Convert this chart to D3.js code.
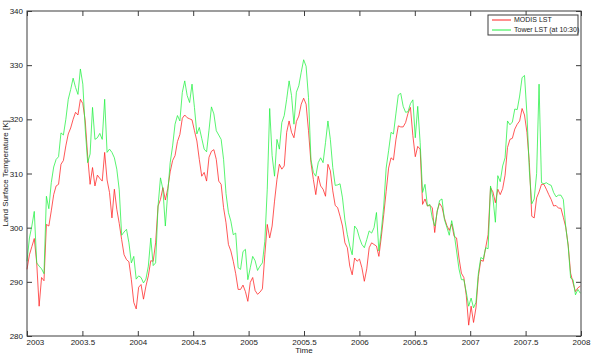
<!DOCTYPE html>
<html>
<head>
<meta charset="utf-8">
<script src="https://cdn.jsdelivr.net/npm/d3@7/dist/d3.min.js"></script>
<style>
  body { margin: 0; background: #fff; }
  text { font-family: "Liberation Sans", Arial, sans-serif; }
</style>
</head>
<body>
<div id="chart"></div>
<script>
// 8-day samples starting 2003-01-01
const startYear = 2003;
const stepDays = 8;

const modisLST = [
  292.3, 295.0, 296.5, 298.0, 293.5, 285.5, 290.8, 290.2, 300.6, 300.3,
  303.1, 306.1, 307.7, 308.0, 311.7, 312.4, 315.1, 317.3, 318.4, 320.0,
  321.3, 320.8, 323.7, 322.9, 319.7, 313.2, 308.0, 311.1, 307.7, 309.7,
  309.1, 308.6, 313.9, 308.8, 306.5, 301.8, 307.1, 303.4, 300.8, 297.8,
  295.0, 294.1, 293.7, 290.4, 286.2, 285.0, 289.0, 289.5, 286.8, 289.2,
  291.1, 293.9, 293.8, 297.2, 304.0, 305.2, 307.4, 305.1, 307.2, 310.3,
  312.4, 313.3, 315.9, 317.2, 320.2, 320.8, 320.3, 320.1, 319.9, 317.9,
  316.0, 312.6, 309.5, 310.2, 308.6, 313.0, 314.1, 314.4, 312.6, 308.6,
  308.0, 303.7, 300.9, 296.9, 295.7, 293.8, 291.5, 288.6, 288.6, 289.4,
  288.2, 286.4, 289.9, 290.8, 288.4, 287.7, 288.1, 288.7, 295.0, 300.6,
  298.1, 300.3, 304.9, 308.9, 311.7, 310.8, 311.4, 317.6, 319.7, 317.6,
  316.6, 319.6, 320.6, 322.8, 323.9, 322.8, 317.9, 312.0, 308.9, 306.1,
  309.5, 307.7, 307.1, 305.8, 311.7, 310.5, 306.8, 304.1, 303.7, 302.1,
  300.3, 297.2, 296.3, 292.9, 291.3, 294.4, 293.8, 294.2, 292.6, 290.1,
  292.4, 296.3, 297.2, 296.9, 296.6, 294.7, 298.3, 302.4, 306.7, 311.0,
  312.9, 312.5, 316.2, 318.8, 318.6, 318.6, 319.4, 321.1, 322.2, 317.0,
  313.1, 315.0, 314.5, 304.3, 305.3, 304.0, 304.1, 303.7, 299.1, 303.1,
  304.5, 303.8, 301.8, 300.4, 299.5, 300.7, 298.4, 298.1, 294.4, 291.6,
  290.8, 287.5, 282.0, 285.5, 282.5, 285.2, 291.0, 294.0, 293.8, 296.3,
  298.7, 307.4, 306.6, 304.6, 307.1, 306.1, 307.2, 309.7, 314.8, 316.3,
  316.5, 318.2, 319.1, 319.7, 322.0, 320.8, 317.6, 312.0, 302.1, 301.8,
  305.5, 306.6, 308.0, 308.0, 307.1, 306.1, 305.2, 304.0, 304.1, 303.6,
  303.6, 301.9, 300.1, 296.8, 291.6, 289.8, 288.2, 288.9, 289.2
];

const towerLST = [
  293.8, 298.1, 300.3, 303.0, 293.5, 292.9, 292.4, 291.5, 305.8, 303.5,
  308.3, 311.2, 312.6, 313.1, 317.5, 317.1, 320.0, 323.7, 325.5, 327.6,
  325.9, 324.6, 329.3, 326.5, 318.2, 312.0, 313.6, 322.2, 316.3, 316.6,
  317.4, 316.3, 323.7, 313.9, 314.5, 313.9, 312.9, 310.8, 307.0, 298.6,
  299.2, 299.7, 297.2, 293.5, 294.7, 290.5, 291.1, 290.8, 289.8, 290.5,
  292.9, 298.1, 293.0, 293.5, 304.0, 309.2, 307.1, 300.3, 306.5, 312.0,
  315.1, 319.1, 320.7, 319.7, 325.0, 327.1, 324.4, 323.1, 326.5, 322.2,
  317.3, 318.5, 316.5, 314.5, 314.0, 318.0, 322.3, 321.0, 317.9, 317.1,
  316.3, 312.6, 306.3, 302.8, 301.2, 298.7, 299.0, 292.6, 292.3, 295.6,
  296.0, 290.4, 292.6, 294.7, 293.9, 292.1, 292.9, 293.5, 297.5, 307.1,
  322.0, 313.3, 309.5, 316.3, 314.5, 319.4, 320.7, 323.7, 327.1, 324.4,
  319.1, 325.0, 326.2, 328.7, 331.0, 329.8, 324.0, 312.6, 310.2, 309.5,
  312.0, 312.9, 312.0, 315.7, 319.7, 316.3, 311.1, 307.8, 307.9, 308.1,
  305.5, 301.4, 298.7, 296.6, 295.0, 300.3, 299.7, 298.1, 296.9, 296.3,
  297.8, 299.4, 299.0, 300.0, 302.8, 295.7, 299.4, 304.0, 311.0, 314.2,
  317.6, 317.3, 321.0, 324.5, 324.8, 322.4, 321.3, 321.4, 322.9, 323.6,
  316.6, 322.4, 315.7, 306.5, 308.0, 304.0, 304.3, 301.8, 300.3, 302.8,
  305.0, 305.3, 301.5, 300.1, 298.6, 301.3, 299.0, 295.7, 292.4, 290.4,
  290.4, 288.1, 285.5, 287.0, 285.2, 286.2, 291.6, 294.5, 294.2, 296.3,
  296.1, 307.7, 305.5, 301.0, 309.6, 308.5, 311.4, 312.9, 319.7, 319.0,
  319.5, 321.9, 321.8, 324.3, 327.7, 328.1, 321.0, 310.5, 304.4, 305.3,
  310.0, 326.5, 308.3, 308.1, 308.3, 308.0, 307.8, 306.5, 305.7, 306.0,
  306.0, 305.2, 300.1, 296.6, 290.7, 290.4, 287.6, 288.6, 287.9
];

const xTicks = [2003, 2003.5, 2004, 2004.5, 2005, 2005.5, 2006, 2006.5, 2007, 2007.5, 2008];
const yTicks = [280, 290, 300, 310, 320, 330, 340];
const seriesNames = ['MODIS LST', 'Tower LST (at 10:30)'];
const seriesColors = ['#ff2020', '#20f040'];

const width = 600, height = 357;
const margin = { top: 11, right: 19, bottom: 21, left: 27 };

const svg = d3.select('#chart')
  .append('svg')
  .attr('width', width)
  .attr('height', height);

const x = d3.scaleLinear().domain([2003, 2008]).range([margin.left, width - margin.right]);
const y = d3.scaleLinear().domain([280, 340]).range([height - margin.bottom, margin.top]);

const timeOf = i => startYear + (i * stepDays) / 365.25;

// axes, ticks pointing inward like matlab
const axisColor = '#3c3c3c';
function styleAxis(g) {
  g.selectAll('.domain').remove();
  g.selectAll('line').attr('stroke', axisColor);
  g.selectAll('text').attr('fill', '#222').style('font-size', '8px');
}

const xAxisG = svg.append('g')
  .attr('transform', `translate(0,${height - margin.bottom})`)
  .call(d3.axisBottom(x).tickValues(xTicks).tickSizeInner(-5).tickSizeOuter(0).tickPadding(3).tickFormat(d => d))
  .call(styleAxis);

// first label sits right of the corner, as in the original
xAxisG.selectAll('.tick text')
  .filter(d => d === xTicks[0])
  .attr('text-anchor', 'start')
  .attr('x', -1);

svg.append('g')
  .attr('transform', `translate(0,${margin.top})`)
  .call(d3.axisTop(x).tickValues(xTicks).tickSizeInner(-5).tickSizeOuter(0).tickFormat(''))
  .call(styleAxis);

svg.append('g')
  .attr('transform', `translate(${margin.left},0)`)
  .call(d3.axisLeft(y).tickValues(yTicks).tickSizeInner(-5).tickSizeOuter(0).tickPadding(4).tickFormat(d => d))
  .call(styleAxis);

svg.append('g')
  .attr('transform', `translate(${width - margin.right},0)`)
  .call(d3.axisRight(y).tickValues(yTicks).tickSizeInner(-5).tickSizeOuter(0).tickFormat(''))
  .call(styleAxis);

// lines
const line = d3.line()
  .x((d, i) => x(timeOf(i)))
  .y(d => y(d));

[modisLST, towerLST].forEach((data, s) => {
  svg.append('path')
    .datum(data)
    .attr('fill', 'none')
    .attr('stroke', seriesColors[s])
    .attr('stroke-width', 0.75)
    .attr('stroke-linejoin', 'round')
    .attr('d', line);
});

// box
svg.append('rect')
  .attr('x', margin.left)
  .attr('y', margin.top)
  .attr('width', width - margin.left - margin.right)
  .attr('height', height - margin.top - margin.bottom)
  .attr('fill', 'none')
  .attr('stroke', axisColor)
  .attr('stroke-width', 1);

// axis labels
svg.append('text')
  .attr('x', (margin.left + width - margin.right) / 2)
  .attr('y', 353)
  .attr('text-anchor', 'middle')
  .style('font-size', '8px')
  .attr('fill', '#222')
  .text('Time');

svg.append('text')
  .attr('transform', `translate(8,${(margin.top + height - margin.bottom) / 2}) rotate(-90)`)
  .attr('text-anchor', 'middle')
  .style('font-size', '8px')
  .attr('fill', '#222')
  .text('Land Surface Temperature [K]');

// legend
const legend = svg.append('g').attr('transform', 'translate(488,15)');
legend.append('rect')
  .attr('width', 90)
  .attr('height', 20)
  .attr('fill', '#fff')
  .attr('stroke', axisColor)
  .attr('stroke-width', 1);

seriesNames.forEach((name, s) => {
  const ly = 5 + s * 10;
  legend.append('line')
    .attr('x1', 4).attr('x2', 23)
    .attr('y1', ly).attr('y2', ly)
    .attr('stroke', seriesColors[s])
    .attr('stroke-width', 1);
  legend.append('text')
    .attr('x', 26)
    .attr('y', ly)
    .attr('dy', '0.35em')
    .style('font-size', '7px')
    .attr('fill', '#222')
    .text(name);
});
</script>
</body>
</html>
